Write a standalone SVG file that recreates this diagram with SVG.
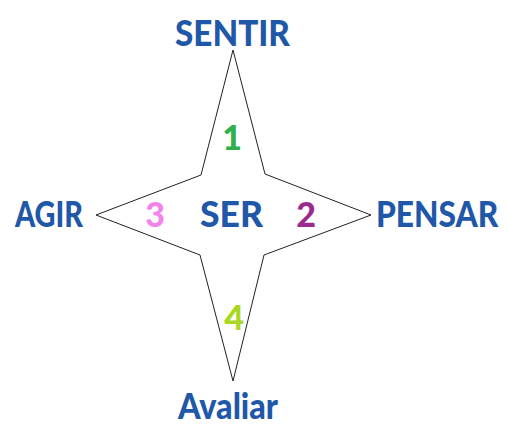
<svg xmlns="http://www.w3.org/2000/svg" width="508" height="427" viewBox="0 0 508 427">
<style>
.lbl{font-family:Lato,"Open Sans","Liberation Sans",sans-serif;font-weight:900;fill:#1f58a8;font-size:36px}
.num{font-family:Lato,"Open Sans","Liberation Sans",sans-serif;font-weight:900;font-size:34px}
</style>
<rect width="508" height="427" fill="#ffffff"/>
<g id="connectors">
<polygon id="star" points="233,50 265,174 371,215 264,255 233,381 200,255 96,215 201,175" fill="none" stroke="#222" stroke-width="1"/>
</g>
<g id="sentir"><text class="lbl" x="175" y="46" textLength="115" lengthAdjust="spacingAndGlyphs">SENTIR</text></g>
<g id="agir"><text class="lbl" x="15" y="227" textLength="68" lengthAdjust="spacingAndGlyphs">AGIR</text></g>
<g id="ser"><text class="lbl" x="200" y="227" textLength="63" lengthAdjust="spacingAndGlyphs">SER</text></g>
<g id="pensar"><text class="lbl" transform="translate(376,227) scale(0.88,1)" x="0" y="0" font-size="34">PENSAR</text></g>
<g id="avaliar"><text class="lbl" x="178" y="419" textLength="100" lengthAdjust="spacingAndGlyphs" font-size="34">Avaliar</text></g>
<g id="n1"><text class="num" x="232" y="150" fill="#2eb04c" text-anchor="middle">1</text></g>
<g id="n2"><text class="num" x="306" y="227" fill="#9a2a8c" text-anchor="middle">2</text></g>
<g id="n3"><text class="num" x="155" y="227" fill="#f283ec" text-anchor="middle">3</text></g>
<g id="n4"><text class="num" x="234" y="330" fill="#a8d824" text-anchor="middle">4</text></g>
</svg>
